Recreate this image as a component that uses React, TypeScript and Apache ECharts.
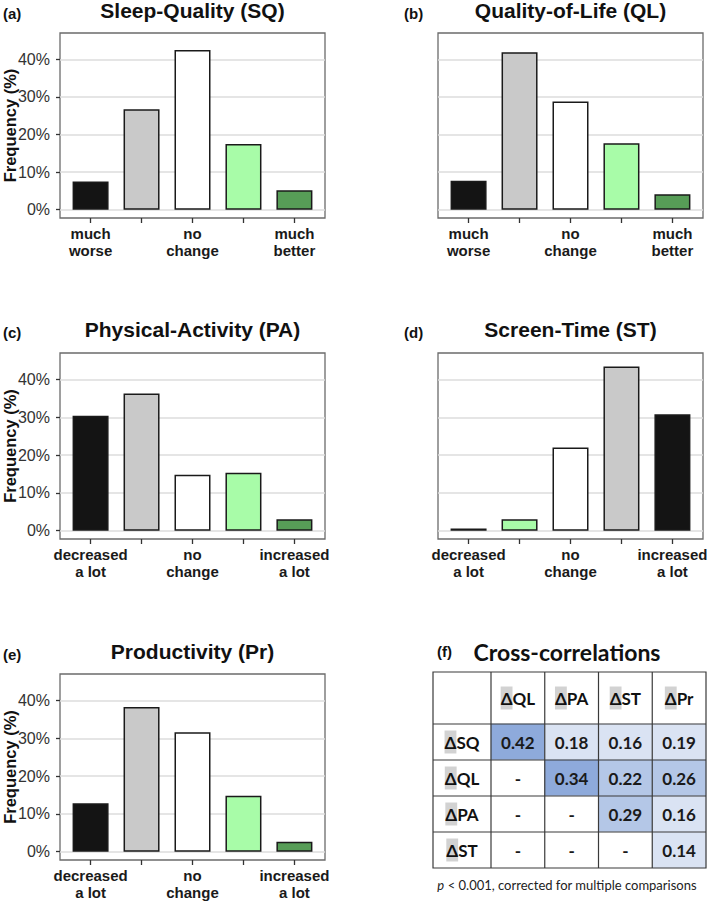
import React, { useEffect, useRef } from "react";
import * as echarts from "echarts";

// ---------- data ----------
const qualityLabels = ["much\nworse", "", "no\nchange", "", "much\nbetter"];
const amountLabels = ["decreased\na lot", "", "no\nchange", "", "increased\na lot"];
const yTickValues = [0, 10, 20, 30, 40];

const sleepQuality = [7.5, 26.7, 42.5, 17.5, 5.2];
const qualityOfLife = [7.7, 41.9, 28.8, 17.7, 4.1];
const physicalActivity = [30.4, 36.3, 14.8, 15.3, 3.0];
const screenTime = [0.6, 3.0, 22.0, 43.4, 30.8];
const productivity = [12.8, 38.3, 31.6, 14.8, 2.6];

const corrRowLabels = ["ΔSQ", "ΔQL", "ΔPA", "ΔST"];
const corrColLabels = ["ΔQL", "ΔPA", "ΔST", "ΔPr"];
const corrValues: (number | null)[][] = [
  [0.42, 0.18, 0.16, 0.19],
  [null, 0.34, 0.22, 0.26],
  [null, null, 0.29, 0.16],
  [null, null, null, 0.14],
];

// ---------- styles ----------
const FONT = "Liberation Sans, Arial, sans-serif";
const TFONT = "Lato, Noto Sans, sans-serif";
const C_BLACK = "#141414";
const C_GRAY = "#c9c9c9";
const C_WHITE = "#ffffff";
const C_LIGHT = "#a8fca8";
const C_DARK = "#579d57";
const goodColors = [C_BLACK, C_GRAY, C_WHITE, C_LIGHT, C_DARK];
const badColors = [C_DARK, C_LIGHT, C_WHITE, C_GRAY, C_BLACK];

const panels = [
  { tag: "(a)", title: "Sleep-Quality (SQ)", labels: qualityLabels, values: sleepQuality, colors: goodColors, left: 60, top: 33, height: 185, showY: true, tagX: 3 },
  { tag: "(b)", title: "Quality-of-Life (QL)", labels: qualityLabels, values: qualityOfLife, colors: goodColors, left: 438, top: 33, height: 185, showY: false, tagX: 404 },
  { tag: "(c)", title: "Physical-Activity (PA)", labels: amountLabels, values: physicalActivity, colors: goodColors, left: 60, top: 353, height: 186, showY: true, tagX: 3 },
  { tag: "(d)", title: "Screen-Time (ST)", labels: amountLabels, values: screenTime, colors: badColors, left: 438, top: 353, height: 186, showY: false, tagX: 404 },
  { tag: "(e)", title: "Productivity (Pr)", labels: amountLabels, values: productivity, colors: goodColors, left: 60, top: 674, height: 186, showY: true, tagX: 3 },
];
const PANEL_W = 265;
const titleGap = [23, 23, 24, 24, 23];

// table geometry
const TL = 433, TT = 672, HC = 491, HR = 724, TR = 706, TB = 868;

function buildOption(): any {
  const grid: any[] = [];
  const xAxis: any[] = [];
  const yAxis: any[] = [];
  const series: any[] = [];
  const graphic: any[] = [];

  panels.forEach((p, i) => {
    grid.push({
      left: p.left, top: p.top, width: PANEL_W, height: p.height,
      show: true, borderColor: "#6b6b6b", borderWidth: 1.3, backgroundColor: "transparent",
      containLabel: false, outerBoundsMode: "none",
    });
    xAxis.push({
      gridIndex: i, type: "value", min: 0.4, max: 5.6,
      axisLine: { show: false, onZero: false },
      splitLine: { show: false },
      axisTick: { show: true, customValues: [1, 2, 3, 4, 5], length: 5, lineStyle: { color: "#333", width: 1.3 } },
      axisLabel: {
        customValues: [1, 2, 3, 4, 5],
        formatter: (v: number) => p.labels[Math.round(v) - 1] || "",
        fontFamily: FONT, fontWeight: "bold", fontSize: 15, color: "#1a1a1a",
        lineHeight: 17, margin: 7,
      },
    });
    yAxis.push({
      gridIndex: i, type: "value", min: -2.2, max: 47,
      axisLine: { show: false, onZero: false },
      axisTick: { show: p.showY, customValues: yTickValues, length: 4, lineStyle: { color: "#333", width: 1.3 } },
      axisLabel: {
        show: p.showY, customValues: yTickValues,
        formatter: (v: number) => v + "%",
        fontFamily: FONT, fontSize: 16, color: "#333", margin: 10,
      },
      splitLine: { show: true, lineStyle: { color: "#dddddd", width: 1.5 } },
      name: p.showY ? "Frequency (%)" : "",
      nameLocation: "middle", nameGap: 42, nameMoveOverlap: false,
      nameTextStyle: { fontFamily: FONT, fontWeight: "bold", fontSize: 16.5, color: "#111" },
    });
    series.push({
      type: "bar", xAxisIndex: i, yAxisIndex: i, barWidth: 36, silent: true,
      itemStyle: { borderColor: "#1a1a1a", borderWidth: 1.5 },
      data: p.values.map((v, k) => ({ value: [k + 1, v], itemStyle: { color: p.colors[k] } })),
    });
    graphic.push({
      type: "text", x: p.left + PANEL_W / 2, y: p.top - titleGap[i], z: 20,
      style: { text: p.title, font: `bold 21px ${FONT}`, fill: "#111", align: "center", verticalAlign: "middle", textAlign: "center", textVerticalAlign: "middle" },
    });
    graphic.push({
      type: "text", x: p.tagX, y: p.top - titleGap[i] + 3, z: 20,
      style: { text: p.tag, font: `bold 15px ${FONT}`, fill: "#111", align: "left", verticalAlign: "middle", textAlign: "left", textVerticalAlign: "middle" },
    });
  });

  // correlation table (heatmap)
  const gi = panels.length;
  grid.push({ left: HC, top: HR, width: TR - HC, height: TB - HR, show: false, outerBoundsMode: "none" });
  const hdrRich = {
    d: { backgroundColor: "#d2d2d2", padding: [3, 0, 3, 0], fontFamily: TFONT, fontWeight: "bold", fontSize: 17, color: "#111" },
    t: { fontFamily: TFONT, fontWeight: "bold", fontSize: 17, color: "#111" },
  };
  xAxis.push({
    gridIndex: gi, type: "category", data: corrColLabels, position: "top",
    axisLine: { show: false }, axisTick: { show: false }, splitLine: { show: false },
    axisLabel: {
      interval: 0,
      formatter: (v: string) => `{d|${v.slice(0, 1)}}{t|${v.slice(1)}}`,
      rich: hdrRich, margin: 26, verticalAlign: "middle",
    },
  });
  yAxis.push({
    gridIndex: gi, type: "category", data: corrRowLabels, inverse: true,
    axisLine: { show: false }, axisTick: { show: false }, splitLine: { show: false },
    axisLabel: {
      interval: 0,
      formatter: (v: string) => `{d|${v.slice(0, 1)}}{t|${v.slice(1)}}`,
      rich: hdrRich, margin: (HC - TL) / 2, align: "center",
    },
  });
  const heatData: any[] = [];
  corrValues.forEach((row, r) => {
    row.forEach((v, c) => {
      heatData.push([c, r, v == null ? 0 : v]);
    });
  });
  const heatIndex = series.length;
  series.push({
    type: "heatmap", xAxisIndex: gi, yAxisIndex: gi, silent: true,
    data: heatData,
    itemStyle: { borderWidth: 0 },
    label: {
      show: true,
      formatter: (p: any) => {
        const v = corrValues[p.value[1]][p.value[0]];
        return v == null ? "-" : v.toFixed(2);
      },
      fontFamily: TFONT, fontWeight: "bold", fontSize: 17, color: "#1a1a1a",
    },
  });

  // table rules
  const lineStyle = { stroke: "#3a3a3a", lineWidth: 1.2 };
  const rowH = (TB - HR) / corrRowLabels.length;
  const colW = (TR - HC) / corrColLabels.length;
  graphic.push({ type: "rect", z: 30, shape: { x: TL, y: TT, width: TR - TL, height: TB - TT }, style: { fill: "none", ...lineStyle } });
  graphic.push({ type: "line", z: 30, shape: { x1: TL, y1: HR, x2: TR, y2: HR }, style: lineStyle });
  graphic.push({ type: "line", z: 30, shape: { x1: HC, y1: TT, x2: HC, y2: TB }, style: lineStyle });
  for (let k = 1; k < corrRowLabels.length; k++) {
    const y = HR + rowH * k;
    graphic.push({ type: "line", z: 30, shape: { x1: TL, y1: y, x2: TR, y2: y }, style: lineStyle });
  }
  for (let k = 1; k < corrColLabels.length; k++) {
    const x = HC + colW * k;
    graphic.push({ type: "line", z: 30, shape: { x1: x, y1: TT, x2: x, y2: TB }, style: lineStyle });
  }
  graphic.push({
    type: "text", x: 567, y: 652, z: 20,
    style: { text: "Cross-correlations", font: `bold 23px ${TFONT}`, fill: "#111", align: "center", verticalAlign: "middle", textAlign: "center", textVerticalAlign: "middle" },
  });
  graphic.push({
    type: "text", x: 437, y: 651, z: 20,
    style: { text: "(f)", font: `bold 15px ${FONT}`, fill: "#111", align: "left", verticalAlign: "middle", textAlign: "left", textVerticalAlign: "middle" },
  });
  graphic.push({
    type: "text", x: 567, y: 885, z: 20,
    style: {
      text: "{i|p}{n| < 0.001, corrected for multiple comparisons}",
      align: "center", verticalAlign: "middle", textAlign: "center", textVerticalAlign: "middle",
      rich: {
        i: { fontFamily: TFONT, fontStyle: "italic", fontSize: 13, fill: "#222" },
        n: { fontFamily: TFONT, fontSize: 13, fill: "#222" },
      },
    },
  });

  const visualMap = {
    type: "piecewise", show: false, seriesIndex: heatIndex, dimension: 2,
    pieces: [
      { lt: 0.01, color: "#ffffff" },
      { gte: 0.01, lt: 0.2, color: "#dae3f3" },
      { gte: 0.2, lt: 0.3, color: "#b4c7e7" },
      { gte: 0.3, color: "#8eaadb" },
    ],
  };

  return { animation: false, backgroundColor: "#ffffff", grid, xAxis, yAxis, series, graphic, visualMap };
}

export default function App() {
  const ref = useRef<HTMLDivElement>(null);
  useEffect(() => {
    document.body.style.margin = "0";
    const chart = echarts.init(ref.current!, null, { renderer: "svg", width: 709, height: 902 });
    chart.setOption(buildOption());
    return () => chart.dispose();
  }, []);
  return <div ref={ref} style={{ width: 709, height: 902 }} />;
}
